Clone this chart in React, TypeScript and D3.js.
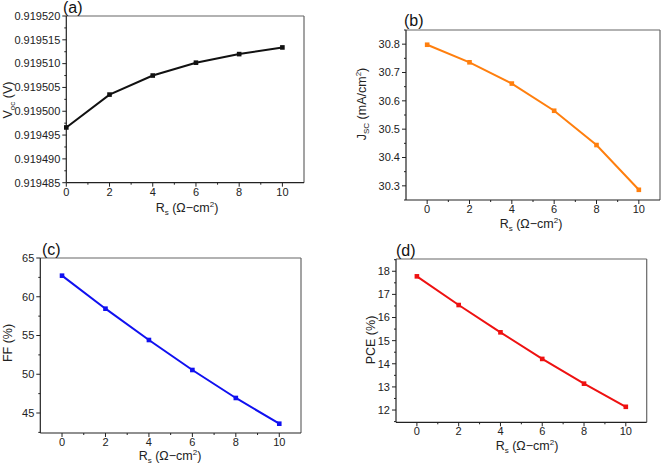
import React from "react";
import * as d3 from "d3";

const rsValues = [0, 2, 4, 6, 8, 10];
const vocValues = [0.9194966, 0.9195035, 0.9195075, 0.9195102, 0.919512, 0.9195134];
const jscValues = [30.798, 30.736, 30.661, 30.565, 30.444, 30.286];
const ffValues = [62.72, 58.46, 54.42, 50.55, 46.94, 43.62];
const pceValues = [17.78, 16.54, 15.36, 14.21, 13.14, 12.14];

const xTicks = [0, 2, 4, 6, 8, 10];
const xMinorTicks = [1, 3, 5, 7, 9];
const vocTicks = [0.919485, 0.91949, 0.919495, 0.9195, 0.919505, 0.91951, 0.919515, 0.91952];
const jscTicks = [30.3, 30.4, 30.5, 30.6, 30.7, 30.8];
const ffTicks = [45, 50, 55, 60, 65];
const pceTicks = [12, 13, 14, 15, 16, 17, 18];

const FONT = "'Liberation Sans', Arial, sans-serif";

type PanelProps = {
  box: { l: number; r: number; t: number; b: number };
  xDomain: [number, number];
  yDomain: [number, number];
  values: number[];
  yTicks: number[];
  yMinorStep: number;
  yFmt: (v: number) => string;
  color: string;
  tag: string;
  tagPos: [number, number];
  yLabel: React.ReactNode;
  yLabelPos: [number, number];
  xLabelPos: [number, number];
};

function Panel(p: PanelProps) {
  const { box } = p;
  const x = d3.scaleLinear().domain(p.xDomain).range([box.l, box.r]);
  const y = d3.scaleLinear().domain(p.yDomain).range([box.b, box.t]);
  const pts = rsValues.map((r, i) => [x(r), y(p.values[i])] as [number, number]);
  const line = d3.line()(pts) || "";
  const minors: number[] = [];
  for (let i = 0; i < p.yTicks.length - 1; i++) minors.push(p.yTicks[i] + p.yMinorStep);
  const lo = p.yTicks[0] - p.yMinorStep;
  const hi = p.yTicks[p.yTicks.length - 1] + p.yMinorStep;
  if (lo >= p.yDomain[0]) minors.push(lo);
  if (hi <= p.yDomain[1] + 1e-12) minors.push(hi);
  return (
    <g fontFamily={FONT}>
      {/* frame */}
      <line x1={box.l} x2={box.r} y1={box.t} y2={box.t} stroke="#666" strokeWidth={1.2} />
      <line x1={box.r} x2={box.r} y1={box.t} y2={box.b} stroke="#666" strokeWidth={1.2} />
      <line x1={box.l} x2={box.l} y1={box.t} y2={box.b} stroke="#222" strokeWidth={1.2} />
      <line x1={box.l} x2={box.r} y1={box.b} y2={box.b} stroke="#222" strokeWidth={1.2} />
      {/* x ticks */}
      {xTicks.map((t) => (
        <g key={"xt" + t}>
          <line x1={x(t)} x2={x(t)} y1={box.b} y2={box.b + 4} stroke="#222" />
          <text x={x(t)} y={box.b + 13} fontSize={11} textAnchor="middle" fill="#222">
            {t}
          </text>
        </g>
      ))}
      {xMinorTicks.map((t) => (
        <line key={"xm" + t} x1={x(t)} x2={x(t)} y1={box.b} y2={box.b + 2} stroke="#222" />
      ))}
      {/* y ticks */}
      {p.yTicks.map((t) => (
        <g key={"yt" + t}>
          <line x1={box.l - 4} x2={box.l} y1={y(t)} y2={y(t)} stroke="#222" />
          <text x={box.l - 6} y={y(t)} dy="0.35em" fontSize={11} textAnchor="end" fill="#222">
            {p.yFmt(t)}
          </text>
        </g>
      ))}
      {minors.map((t) => (
        <line key={"ym" + t} x1={box.l - 2} x2={box.l} y1={y(t)} y2={y(t)} stroke="#222" />
      ))}
      {/* data */}
      <path d={line} fill="none" stroke={p.color} strokeWidth={2} />
      {pts.map(([px, py], i) => (
        <rect key={i} x={px - 2.3} y={py - 2.3} width={4.6} height={4.6} fill={p.color} />
      ))}
      {/* tag */}
      <text x={p.tagPos[0]} y={p.tagPos[1]} fontSize={16} fill="#111">
        {p.tag}
      </text>
      {/* y label */}
      <text
        transform={`translate(${p.yLabelPos[0]},${p.yLabelPos[1]}) rotate(-90)`}
        textAnchor="middle"
        dy="0.35em"
        fontSize={12.5}
        fill="#222"
      >
        {p.yLabel}
      </text>
      {/* x label */}
      <text x={p.xLabelPos[0]} y={p.xLabelPos[1]} textAnchor="middle" fontSize={12.5} fill="#222">
        R<tspan fontSize={8} dy={2.5}>s</tspan>
        <tspan dy={-2.5}> (Ω−cm</tspan>
        <tspan fontSize={8} dy={-5}>2</tspan>
        <tspan dy={5}>)</tspan>
      </text>
    </g>
  );
}

export default function App() {
  return (
    <svg
      width={661}
      height={466}
      style={{ position: "absolute", left: 0, top: 0, background: "#fff" }}
    >
      <rect width={661} height={466} fill="#fff" />
      <Panel
        box={{ l: 66.3, r: 304, t: 16, b: 182.7 }}
        xDomain={[0, 11]}
        yDomain={[0.919485, 0.91952]}
        values={vocValues}
        yTicks={vocTicks}
        yMinorStep={0.0000025}
        yFmt={(v) => v.toFixed(6)}
        color="#111"
        tag="(a)"
        tagPos={[63, 13]}
        yLabel={
          <>
            V<tspan fontSize={8} dy={2.5}>oc</tspan>
            <tspan dy={-2.5}> (V)</tspan>
          </>
        }
        yLabelPos={[8, 100]}
        xLabelPos={[187, 212]}
      />
      <Panel
        box={{ l: 406, r: 660, t: 30, b: 200 }}
        xDomain={[-1, 11]}
        yDomain={[30.25, 30.85]}
        values={jscValues}
        yTicks={jscTicks}
        yMinorStep={0.05}
        yFmt={(v) => v.toFixed(1)}
        color="#ff7f0e"
        tag="(b)"
        tagPos={[404, 26]}
        yLabel={
          <>
            J<tspan fontSize={8} dy={2.5}>SC</tspan>
            <tspan dy={-2.5}> (mA/cm</tspan>
            <tspan fontSize={8} dy={-5}>2</tspan>
            <tspan dy={5}>)</tspan>
          </>
        }
        yLabelPos={[362, 104]}
        xLabelPos={[531, 228]}
      />
      <Panel
        box={{ l: 40.3, r: 301, t: 258, b: 433 }}
        xDomain={[-1, 11]}
        yDomain={[42.42, 65]}
        values={ffValues}
        yTicks={ffTicks}
        yMinorStep={2.5}
        yFmt={(v) => String(v)}
        color="#1010f0"
        tag="(c)"
        tagPos={[42, 255]}
        yLabel={<>FF (%)</>}
        yLabelPos={[8, 343]}
        xLabelPos={[170, 460]}
      />
      <Panel
        box={{ l: 396, r: 646.7, t: 259, b: 422.3 }}
        xDomain={[-1, 11]}
        yDomain={[11.47, 18.53]}
        values={pceValues}
        yTicks={pceTicks}
        yMinorStep={0.5}
        yFmt={(v) => String(v)}
        color="#ee1111"
        tag="(d)"
        tagPos={[396, 256]}
        yLabel={<>PCE (%)</>}
        yLabelPos={[371, 340]}
        xLabelPos={[527, 450]}
      />
    </svg>
  );
}
